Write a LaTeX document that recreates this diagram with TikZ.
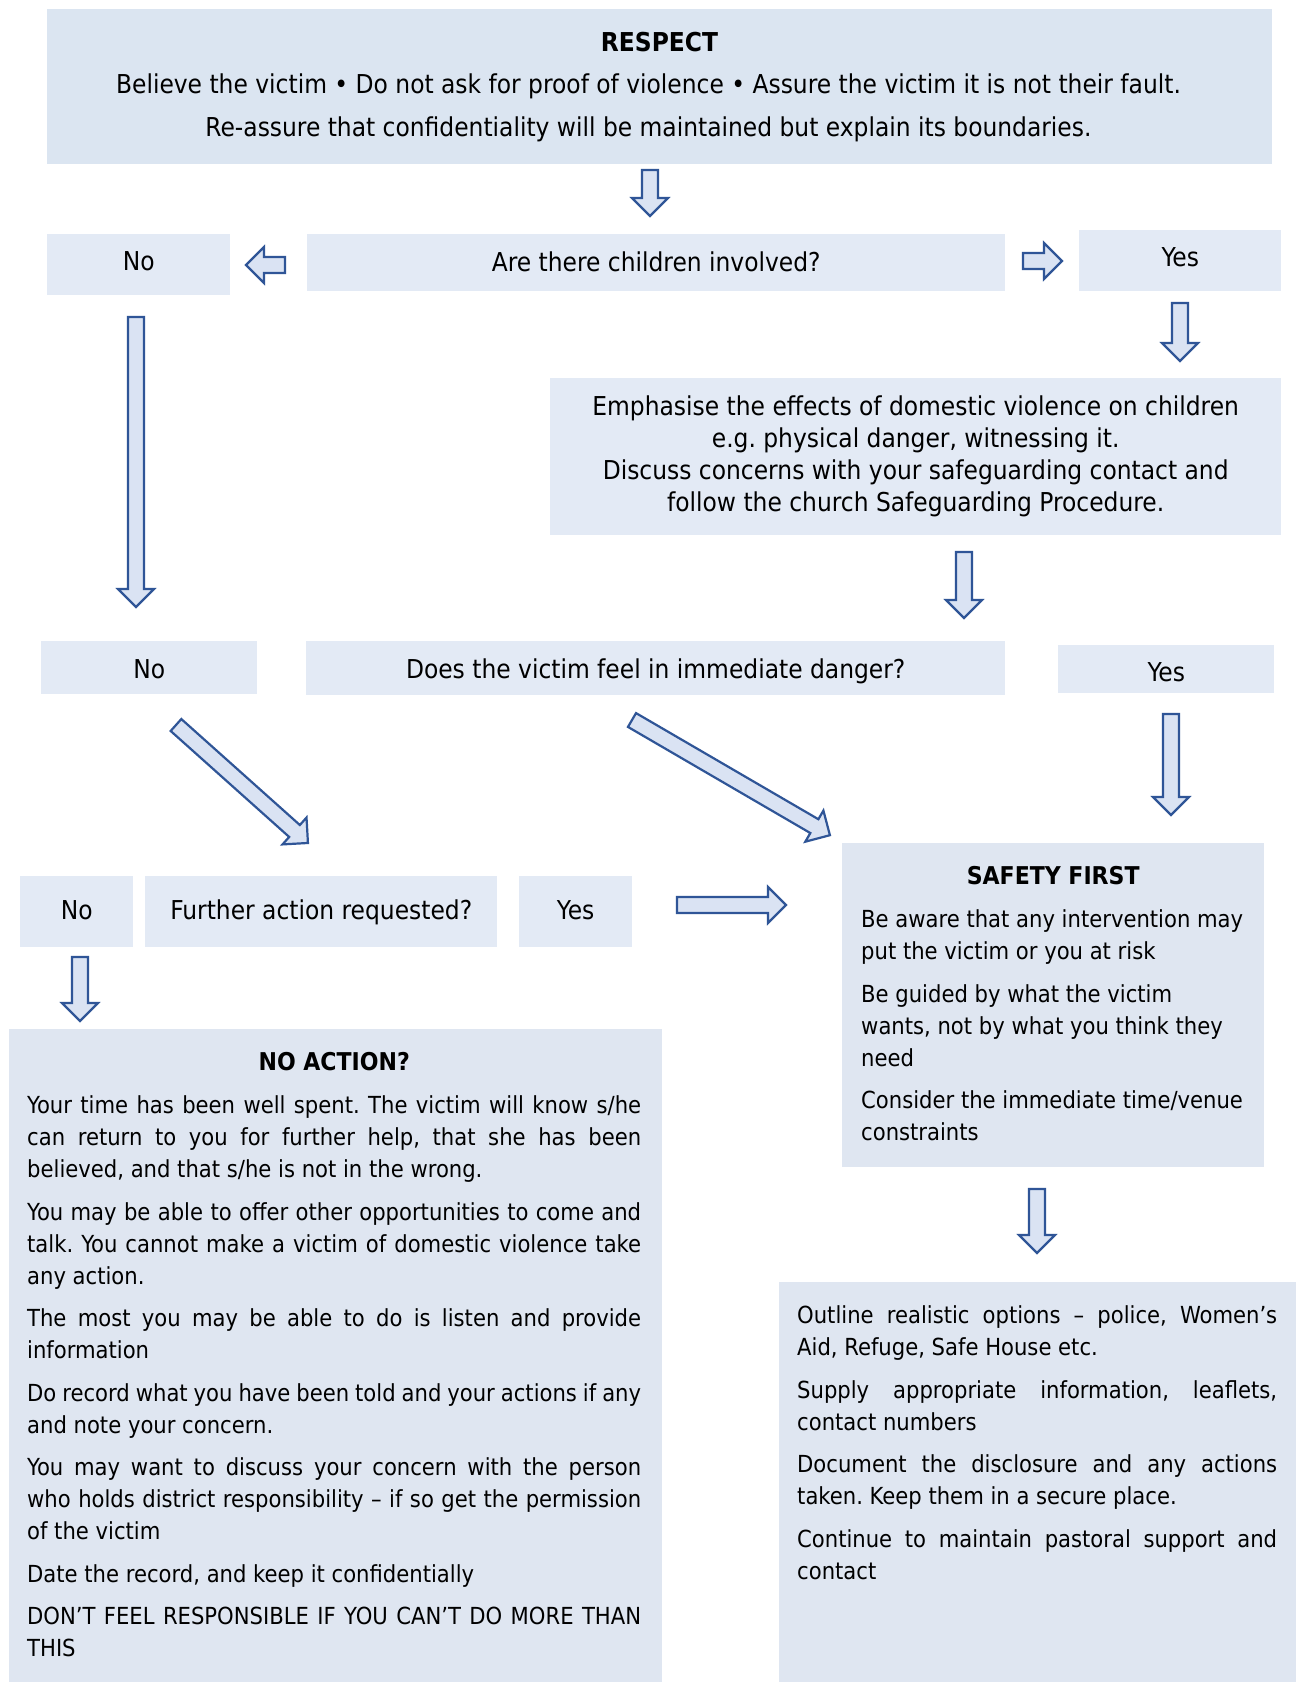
\documentclass[tikz,border=0pt]{standalone}
\usepackage{fontspec}
\setmainfont{DejaVu Sans Condensed}
\usetikzlibrary{calc}
\definecolor{boxa}{HTML}{DBE5F1}
\definecolor{boxb}{HTML}{E3EAF5}
\definecolor{boxc}{HTML}{DFE6F1}
\definecolor{arrfill}{HTML}{DAE3F3}
\definecolor{arrline}{HTML}{2F5597}
\newcommand{\jl}[2]{\makebox[#1][s]{#2}}
\newcommand{\blockarr}[3]{%
  \begin{scope}[shift={#1},rotate=#2]
    \draw[arrshape] (0,8) -- ({#3-18},8) -- ({#3-18},18) -- (#3,0) -- ({#3-18},-18) -- ({#3-18},-8) -- (0,-8) -- cycle;
  \end{scope}}
\tikzset{
  arrshape/.style={draw=arrline,fill=arrfill,line width=2.2pt,line join=miter},
  every node/.style={font=\frenchspacing\fontsize{26}{32}\selectfont,text=black},
  small/.style={font=\frenchspacing\fontsize{23.5}{32}\selectfont},
  sbox/.style={fill=boxb,draw=none,anchor=north west,inner sep=0pt},
  bbox/.style={fill=boxc,draw=none,anchor=north west,inner sep=0pt},
  txt/.style={anchor=north west,inner sep=0pt,align=left,small},
  lbl/.style={inner sep=0pt},
}
\newcommand{\ttl}[2]{\makebox[#1]{\strut\fontsize{24.5}{32}\selectfont\bfseries #2}}
\begin{document}
\begin{tikzpicture}[x=1pt,y=-1pt]
\useasboundingbox (0,0) rectangle (1297,1682);
\fill[white] (0,0) rectangle (1297,1682);

% RESPECT
\node[fill=boxa,anchor=north west,inner sep=0pt,minimum width=1225pt,minimum height=155pt] (respect) at (47,9) {};
\node[align=center,inner sep=0pt] (respecttxt) at (659.5,87) {\textbf{RESPECT}\\[10.5pt]
Believe the victim • Do not ask for proof of violence • Assure the victim it is not their fault.\hspace*{22pt}\mbox{}\\[10.5pt]
Re-assure that confidentiality will be maintained but explain its boundaries.\hspace*{22pt}\mbox{}};

% Row 2
\node[sbox,minimum width=183pt,minimum height=61pt] (no1) at (47,234) {};
\node[lbl] (no1txt) at ($(no1.center)+(0,-4)$) {No};
\node[sbox,minimum width=698pt,minimum height=57pt] (children) at (307,234) {};
\node[lbl] (childrentxt) at ($(children.center)+(0,-1)$) {Are there children involved?};
\node[sbox,minimum width=202pt,minimum height=61pt] (yes1) at (1079,230) {};
\node[lbl] (yes1txt) at ($(yes1.center)+(0,-3)$) {Yes};

% Emphasise
\node[sbox,minimum width=731pt,minimum height=157pt] (emph) at (550,378) {};
\node[align=center,inner sep=0pt] (emphtxt) at (emph.center) {Emphasise the effects of domestic violence on children\\
e.g. physical danger, witnessing it.\\
Discuss concerns with your safeguarding contact and\\
follow the church Safeguarding Procedure.};

% Row 3
\node[sbox,minimum width=216pt,minimum height=53pt] (no2) at (41,641) {};
\node[lbl] (no2txt) at ($(no2.center)+(0,1)$) {No};
\node[sbox,minimum width=699pt,minimum height=54pt] (danger) at (306,641) {};
\node[lbl] (dangertxt) at ($(danger.center)+(0,3)$) {Does the victim feel in immediate danger?};
\node[sbox,minimum width=216pt,minimum height=48pt] (yes2) at (1058,645) {};
\node[lbl] (yes2txt) at ($(yes2.center)+(0,3)$) {Yes};

% Row 4
\node[sbox,minimum width=113pt,minimum height=71pt] (no3) at (20,876) {};
\node[lbl] (no3txt) at ($(no3.center)+(0,-2)$) {No};
\node[sbox,minimum width=352pt,minimum height=71pt] (further) at (145,876) {};
\node[lbl] (furthertxt) at ($(further.center)+(0,1)$) {Further action requested?};
\node[sbox,minimum width=113pt,minimum height=71pt] (yes3) at (519,876) {};
\node[lbl] (yes3txt) at ($(yes3.center)+(0,-2)$) {Yes};

% SAFETY FIRST
\node[bbox,minimum width=422pt,minimum height=324pt] (safety) at (842,843) {};
\node[txt] (safetytxt) at (861,862) {\ttl{384pt}{SAFETY FIRST}\\[11pt]
Be aware that any intervention may\\
put the victim or you at risk\\[10.5pt]
Be guided by what the victim\\
wants, not by what you think they\\
need\\[10.5pt]
Consider the immediate time/venue\\
constraints};

% NO ACTION
\node[bbox,minimum width=653pt,minimum height=653pt] (noaction) at (9,1029) {};
\node[txt] (noactiontxt) at (27,1048) {\ttl{614pt}{NO ACTION?}\\[11pt]
\jl{614pt}{Your time has been well spent. The victim will know s/he}\\
\jl{614pt}{can return to you for further help, that she has been}\\
believed, and that s/he is not in the wrong.\\[10.5pt]
\jl{614pt}{You may be able to offer other opportunities to come and}\\
\jl{614pt}{talk. You cannot make a victim of domestic violence take}\\
any action.\\[10.5pt]
\jl{614pt}{The most you may be able to do is listen and provide}\\
information\\[10.5pt]
\jl{614pt}{Do record what you have been told and your actions if any}\\
and note your concern.\\[10.5pt]
\jl{614pt}{You may want to discuss your concern with the person}\\
\jl{614pt}{who holds district responsibility – if so get the permission}\\
of the victim\\[10.5pt]
Date the record, and keep it confidentially\\[10.5pt]
\jl{614pt}{DON’T FEEL RESPONSIBLE IF YOU CAN’T DO MORE THAN}\\
THIS};

% Bottom right
\node[bbox,minimum width=517pt,minimum height=400pt] (options) at (779,1282) {};
\node[txt] (optionstxt) at (797,1301) {\strut\jl{480pt}{Outline realistic options – police, Women’s}\\
Aid, Refuge, Safe House etc.\\[10.5pt]
\jl{480pt}{Supply appropriate information, leaflets,}\\
contact numbers\\[10.5pt]
\jl{480pt}{Document the disclosure and any actions}\\
taken. Keep them in a secure place.\\[10.5pt]
\jl{480pt}{Continue to maintain pastoral support and}\\
contact};

% Block arrows
\blockarr{(650,170)}{-90}{46}
\blockarr{(285,265)}{180}{39}
\blockarr{(1023,261)}{0}{39}
\blockarr{(1180,303)}{-90}{58}
\blockarr{(964,552)}{-90}{66}
\blockarr{(136,317)}{-90}{290}
\blockarr{(1171,714)}{-90}{101}
\blockarr{(176,725)}{-41.8}{177}
\blockarr{(632,720)}{-30.2}{229}
\blockarr{(677,905)}{0}{109}
\blockarr{(80,957)}{-90}{64}
\blockarr{(1037,1189)}{-90}{64}
\end{tikzpicture}
\end{document}
